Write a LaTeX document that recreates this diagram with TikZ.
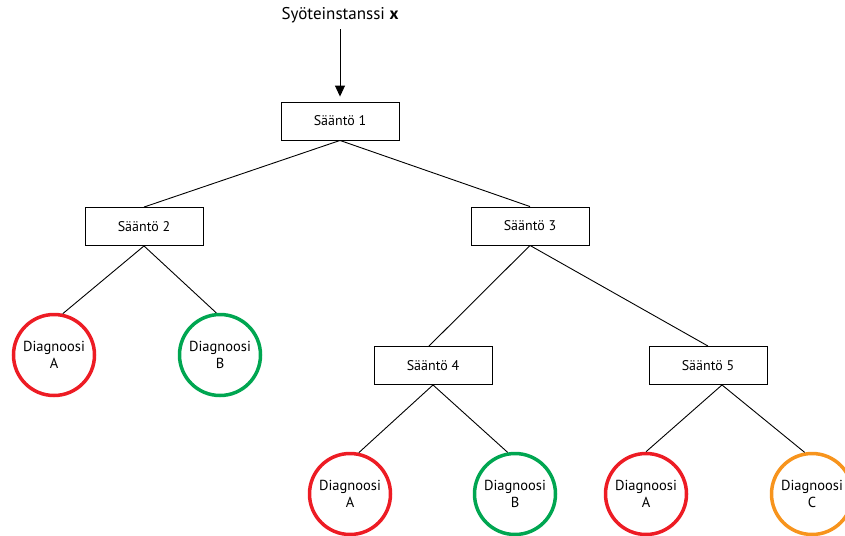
\documentclass[tikz,border=0pt]{standalone}
\usepackage{fontspec}
\setmainfont{PT Sans}
\usetikzlibrary{arrows.meta}
\definecolor{dred}{HTML}{ED1C24}
\definecolor{dgreen}{HTML}{00A651}
\definecolor{dorange}{HTML}{F7941D}
\begin{document}
\begin{tikzpicture}[x=1pt,y=-1pt,
  rulebox/.style={draw, line width=0.9pt, minimum width=118pt, minimum height=38pt, inner sep=0pt, font=\fontsize{14}{16}\selectfont},
  diag/.style={circle, draw=#1, line width=3.5pt, minimum size=81pt, inner sep=0pt, align=center, font=\fontsize{14.5}{17}\selectfont},
  conn/.style={line width=0.9pt}]
\useasboundingbox (0,0) rectangle (845,535);
\node[font=\fontsize{17}{20}\selectfont] (title) at (340,15) {Syöteinstanssi \textbf{x}};
\node[rulebox] (r1) at (340,121) {Sääntö 1};
\node[rulebox] (r2) at (144,226.5) {Sääntö 2};
\node[rulebox] (r3) at (530,226) {Sääntö 3};
\node[rulebox] (r4) at (433,365.5) {Sääntö 4};
\node[rulebox] (r5) at (708,365.5) {Sääntö 5};
\node[diag=dred] (d1) at (54,355) {Diagnoosi\\A};
\node[diag=dgreen] (d2) at (220,355) {Diagnoosi\\B};
\node[diag=dred] (d3) at (350,494) {Diagnoosi\\A};
\node[diag=dgreen] (d4) at (515,494) {Diagnoosi\\B};
\node[diag=dred] (d5) at (646,494) {Diagnoosi\\A};
\node[diag=dorange] (d6) at (812,494) {Diagnoosi\\C};
\draw[conn, -{Triangle[length=11pt,width=10pt]}] ([yshift=-3pt]title.south) -- ([yshift=5pt]r1.north);
\draw[conn] (r1.south) -- (r2.north);
\draw[conn] (r1.south) -- (r3.north);
\draw[conn] (r2.south) -- (d1.78);
\draw[conn] (r2.south) -- (d2.95);
\draw[conn] (r3.south) -- ([xshift=-4pt]r4.north);
\draw[conn] (r3.south) -- (r5.north);
\draw[conn] (r4.south) -- (d3.78);
\draw[conn] (r4.south) -- (d4.100);
\draw[conn] ([xshift=14pt]r5.south) -- (d5.90);
\draw[conn] ([xshift=14pt]r5.south) -- (d6.100);
\end{tikzpicture}
\end{document}
